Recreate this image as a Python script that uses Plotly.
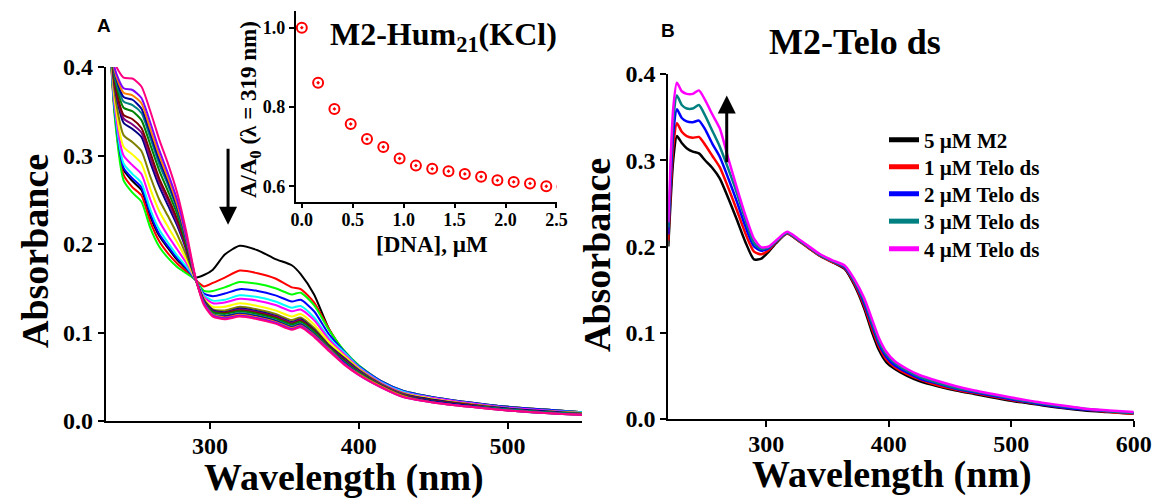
import plotly.graph_objects as go

# ---------------- Panel A : M2 + Hum21 (KCl) titration ----------------
WL_A = [230, 236, 242, 248, 254, 260, 266, 272, 278, 284, 290, 296, 302, 310, 320,
        332, 344, 355, 361, 370, 380, 390, 400, 415, 430, 450, 475, 500, 525, 550]

A_black = [0.52, 0.351, 0.284, 0.271, 0.261, 0.231, 0.209, 0.195, 0.182, 0.172, 0.162, 0.165, 0.171, 0.188, 0.198, 0.193, 0.183, 0.176, 0.166, 0.143, 0.104, 0.078, 0.062, 0.044, 0.033, 0.026, 0.020, 0.016, 0.013, 0.010]
A_red = [0.52, 0.348, 0.278, 0.264, 0.255, 0.225, 0.203, 0.189, 0.178, 0.169, 0.160, 0.152, 0.156, 0.162, 0.170, 0.167, 0.161, 0.151, 0.149, 0.134, 0.104, 0.079, 0.062, 0.045, 0.034, 0.027, 0.021, 0.016, 0.013, 0.010]
A_green = [0.52, 0.345, 0.272, 0.258, 0.248, 0.218, 0.197, 0.184, 0.174, 0.167, 0.160, 0.147, 0.147, 0.151, 0.157, 0.155, 0.150, 0.143, 0.145, 0.131, 0.103, 0.080, 0.063, 0.045, 0.034, 0.027, 0.021, 0.016, 0.013, 0.010]
A_blue = [0.52, 0.352, 0.286, 0.274, 0.264, 0.234, 0.211, 0.197, 0.184, 0.173, 0.160, 0.144, 0.141, 0.144, 0.149, 0.147, 0.142, 0.135, 0.137, 0.124, 0.098, 0.079, 0.062, 0.045, 0.034, 0.027, 0.021, 0.016, 0.013, 0.010]
A_cyan = [0.52, 0.355, 0.291, 0.279, 0.269, 0.239, 0.216, 0.201, 0.187, 0.175, 0.161, 0.142, 0.136, 0.137, 0.142, 0.140, 0.135, 0.128, 0.130, 0.117, 0.094, 0.078, 0.061, 0.044, 0.033, 0.026, 0.020, 0.015, 0.012, 0.010]
A_magenta = [0.52, 0.359, 0.300, 0.289, 0.279, 0.250, 0.226, 0.209, 0.194, 0.179, 0.161, 0.140, 0.133, 0.134, 0.138, 0.136, 0.131, 0.124, 0.126, 0.114, 0.092, 0.076, 0.060, 0.043, 0.032, 0.026, 0.020, 0.015, 0.012, 0.009]
A_yellow = [0.52, 0.365, 0.310, 0.301, 0.291, 0.262, 0.237, 0.219, 0.202, 0.183, 0.161, 0.138, 0.129, 0.129, 0.133, 0.130, 0.125, 0.118, 0.121, 0.109, 0.089, 0.074, 0.059, 0.042, 0.031, 0.025, 0.019, 0.014, 0.011, 0.009]
A_dkyellow = [0.52, 0.371, 0.323, 0.315, 0.305, 0.276, 0.250, 0.231, 0.211, 0.188, 0.162, 0.137, 0.126, 0.125, 0.129, 0.126, 0.121, 0.114, 0.117, 0.105, 0.086, 0.072, 0.058, 0.042, 0.031, 0.024, 0.019, 0.014, 0.011, 0.009]
A_navy = [0.52, 0.379, 0.337, 0.330, 0.321, 0.292, 0.265, 0.243, 0.221, 0.194, 0.162, 0.136, 0.125, 0.123, 0.127, 0.124, 0.119, 0.112, 0.115, 0.103, 0.085, 0.071, 0.057, 0.041, 0.030, 0.024, 0.018, 0.014, 0.011, 0.008]
A_purple = [0.52, 0.381, 0.342, 0.335, 0.326, 0.297, 0.270, 0.248, 0.224, 0.196, 0.162, 0.136, 0.124, 0.122, 0.126, 0.123, 0.118, 0.111, 0.114, 0.102, 0.084, 0.070, 0.056, 0.041, 0.030, 0.023, 0.018, 0.013, 0.010, 0.008]
A_wine = [0.52, 0.383, 0.346, 0.341, 0.331, 0.303, 0.274, 0.252, 0.228, 0.198, 0.163, 0.135, 0.123, 0.122, 0.125, 0.122, 0.117, 0.110, 0.113, 0.102, 0.084, 0.069, 0.055, 0.040, 0.029, 0.023, 0.018, 0.013, 0.010, 0.008]
A_olive = [0.52, 0.388, 0.354, 0.350, 0.340, 0.312, 0.283, 0.259, 0.234, 0.201, 0.163, 0.135, 0.123, 0.121, 0.124, 0.121, 0.116, 0.109, 0.112, 0.101, 0.083, 0.068, 0.055, 0.040, 0.029, 0.022, 0.017, 0.013, 0.010, 0.008]
A_dkcyan = [0.52, 0.391, 0.361, 0.357, 0.348, 0.320, 0.290, 0.266, 0.239, 0.204, 0.163, 0.134, 0.121, 0.119, 0.122, 0.119, 0.114, 0.107, 0.110, 0.099, 0.082, 0.067, 0.054, 0.039, 0.028, 0.022, 0.017, 0.013, 0.010, 0.008]
A_royal = [0.52, 0.394, 0.366, 0.363, 0.353, 0.325, 0.295, 0.270, 0.242, 0.206, 0.163, 0.134, 0.120, 0.118, 0.121, 0.118, 0.113, 0.106, 0.109, 0.098, 0.081, 0.066, 0.053, 0.039, 0.028, 0.022, 0.017, 0.012, 0.009, 0.007]
A_orange = [0.52, 0.396, 0.371, 0.368, 0.359, 0.330, 0.300, 0.274, 0.245, 0.208, 0.163, 0.133, 0.120, 0.117, 0.120, 0.117, 0.112, 0.105, 0.108, 0.097, 0.081, 0.065, 0.053, 0.039, 0.028, 0.021, 0.016, 0.012, 0.009, 0.007]
A_violet = [0.52, 0.399, 0.376, 0.374, 0.365, 0.337, 0.306, 0.279, 0.250, 0.210, 0.164, 0.133, 0.119, 0.116, 0.119, 0.116, 0.111, 0.104, 0.107, 0.096, 0.080, 0.065, 0.052, 0.038, 0.027, 0.021, 0.016, 0.012, 0.009, 0.007]
A_pink = [0.52, 0.405, 0.388, 0.387, 0.378, 0.350, 0.318, 0.290, 0.258, 0.215, 0.165, 0.131, 0.118, 0.115, 0.118, 0.115, 0.110, 0.103, 0.106, 0.095, 0.079, 0.064, 0.052, 0.038, 0.027, 0.021, 0.016, 0.012, 0.009, 0.007]

A_SERIES = [A_black, A_red, A_green, A_blue, A_cyan, A_magenta, A_yellow, A_dkyellow,
            A_navy, A_purple, A_wine, A_olive, A_dkcyan, A_royal, A_orange, A_violet, A_pink]
A_COLORS = ["#000000", "#FF0000", "#00FF00", "#0000FF", "#00FFFF", "#FF00FF", "#FFFF00", "#808000",
            "#000080", "#800080", "#800000", "#008000", "#008080", "#0000A0", "#FF8000", "#8000FF", "#FF0080"]

# ---------------- Inset : A/A0 at 319 nm ----------------
DNA_uM = [0.00, 0.16, 0.32, 0.48, 0.64, 0.80, 0.96, 1.12, 1.28, 1.44, 1.60, 1.76, 1.92, 2.08, 2.24, 2.40, 2.56]
A_RATIO = [1.000, 0.861, 0.795, 0.757, 0.719, 0.699, 0.670, 0.652, 0.644, 0.638, 0.631, 0.624, 0.615, 0.611, 0.607, 0.600, 0.599]

# ---------------- Panel B : M2 + Telo ds ----------------
WL_B = [220, 224, 227, 231, 235, 240, 245, 250, 256, 262, 269, 276, 283, 290, 296, 302, 308, 317, 326, 334,
        344, 354, 364, 372, 380, 386, 392, 398, 405, 415, 425, 440, 455, 470, 485, 500, 520, 540, 560, 580, 600]
B_m2 = [0.200, 0.300, 0.328, 0.320, 0.314, 0.310, 0.308, 0.300, 0.291, 0.279, 0.256, 0.231, 0.205, 0.185, 0.186, 0.194, 0.204, 0.215, 0.207, 0.199, 0.189, 0.182, 0.174, 0.155, 0.128, 0.102, 0.080, 0.066, 0.058, 0.050, 0.044, 0.038, 0.033, 0.029, 0.025, 0.021, 0.017, 0.013, 0.010, 0.008, 0.006]
B_telo1 = [0.207, 0.315, 0.343, 0.333, 0.328, 0.326, 0.327, 0.318, 0.305, 0.292, 0.268, 0.242, 0.215, 0.194, 0.191, 0.196, 0.205, 0.215, 0.207, 0.199, 0.189, 0.182, 0.175, 0.157, 0.131, 0.106, 0.084, 0.069, 0.060, 0.052, 0.046, 0.039, 0.034, 0.030, 0.026, 0.022, 0.018, 0.014, 0.011, 0.008, 0.006]
B_telo2 = [0.214, 0.330, 0.359, 0.349, 0.345, 0.344, 0.346, 0.336, 0.319, 0.304, 0.279, 0.252, 0.223, 0.200, 0.195, 0.198, 0.206, 0.216, 0.208, 0.200, 0.190, 0.183, 0.176, 0.159, 0.134, 0.110, 0.087, 0.072, 0.062, 0.054, 0.047, 0.041, 0.035, 0.031, 0.027, 0.023, 0.018, 0.014, 0.011, 0.009, 0.007]
B_telo3 = [0.222, 0.345, 0.375, 0.364, 0.360, 0.360, 0.364, 0.352, 0.334, 0.316, 0.290, 0.262, 0.231, 0.204, 0.197, 0.199, 0.206, 0.216, 0.208, 0.200, 0.190, 0.183, 0.177, 0.160, 0.137, 0.113, 0.090, 0.075, 0.065, 0.056, 0.049, 0.042, 0.036, 0.032, 0.028, 0.024, 0.019, 0.015, 0.012, 0.009, 0.007]
B_telo4 = [0.228, 0.360, 0.390, 0.380, 0.377, 0.377, 0.381, 0.370, 0.353, 0.337, 0.302, 0.268, 0.236, 0.209, 0.199, 0.200, 0.207, 0.217, 0.209, 0.201, 0.191, 0.184, 0.178, 0.162, 0.140, 0.117, 0.094, 0.078, 0.067, 0.058, 0.051, 0.044, 0.038, 0.033, 0.029, 0.025, 0.020, 0.016, 0.012, 0.010, 0.008]
B_SERIES = [B_m2, B_telo1, B_telo2, B_telo3, B_telo4]
B_NAMES = ["5 \u00b5M M2", "1 \u00b5M Telo ds", "2 \u00b5M Telo ds", "3 \u00b5M Telo ds", "4 \u00b5M Telo ds"]
B_COLORS = ["#000000", "#FF0000", "#0000FF", "#008080", "#FF00FF"]
LEGEND_ROWS_PX = [140, 167, 194, 221.5, 249]

SERIF = "Liberation Serif, Times New Roman, serif"
W, H = 1154, 500

def px(x):
    return x / W

def py(y):
    return 1 - y / H

fig = go.Figure()

for ys, col in zip(A_SERIES, A_COLORS):
    fig.add_trace(go.Scatter(x=WL_A, y=ys, mode="lines", xaxis="x", yaxis="y",
                             line=dict(color=col, width=2, shape="spline", smoothing=0.6),
                             showlegend=False, hoverinfo="skip"))

fig.add_trace(go.Scatter(x=DNA_uM, y=A_RATIO, mode="markers", xaxis="x3", yaxis="y3",
                         marker=dict(symbol="circle-open-dot", size=10, color="#FF0000",
                                     line=dict(width=2, color="#FF0000")),
                         showlegend=False, cliponaxis=True))

legend_ids = ["legend", "legend2", "legend3", "legend4", "legend5"]
for ys, col, nm, lg in zip(B_SERIES, B_COLORS, B_NAMES, legend_ids):
    fig.add_trace(go.Scatter(x=WL_B, y=ys, mode="lines", xaxis="x2", yaxis="y2", name=nm,
                             legend=lg,
                             line=dict(color=col, width=2.5, shape="spline", smoothing=0.6)))

main_tick = dict(family=SERIF, size=24, color="black", weight="bold")
axis_common = dict(showline=True, linecolor="black", linewidth=2, ticks="outside", ticklen=6,
                   tickwidth=2, tickcolor="black", showgrid=False, zeroline=False,
                   tickfont=main_tick, automargin=False)
inset_common = dict(showline=True, linecolor="black", linewidth=1.5, ticks="outside", ticklen=5,
                    tickwidth=1.5, tickcolor="black", showgrid=False, zeroline=False, automargin=False,
                    tickfont=dict(family=SERIF, size=18, color="black", weight="bold"))

legend_font = dict(family=SERIF, size=21, color="black", weight="bold")
legends = {}
for lg, row in zip(legend_ids, LEGEND_ROWS_PX):
    legends[lg] = dict(x=px(884), y=py(row), xanchor="left", yanchor="middle", font=legend_font,
                       bgcolor="rgba(0,0,0,0)", borderwidth=0, tracegroupgap=0, itemsizing="constant")

fig.update_layout(
    width=W, height=H, margin=dict(l=0, r=0, t=0, b=0, pad=0, autoexpand=False),
    paper_bgcolor="white", plot_bgcolor="rgba(0,0,0,0)",
    xaxis=dict(domain=[px(105.7), px(582)], range=[230, 550], anchor="y",
               tickvals=[300, 400, 500], ticklabelstandoff=-4, **axis_common),
    yaxis=dict(domain=[py(421), py(67)], range=[0, 0.4], anchor="x",
               tickvals=[0, 0.1, 0.2, 0.3, 0.4], tickformat=".1f", **axis_common),
    xaxis2=dict(domain=[px(668.3), px(1133.7)], range=[220, 600], anchor="y2",
                tickvals=[300, 400, 500, 600], ticklabelstandoff=-4, **axis_common),
    yaxis2=dict(domain=[py(419), py(74)], range=[0, 0.4], anchor="x2",
                tickvals=[0, 0.1, 0.2, 0.3, 0.4], tickformat=".1f", **axis_common),
    xaxis3=dict(domain=[px(295.7), px(557)], range=[-0.06, 2.505], anchor="y3",
                tickvals=[0, 0.5, 1.0, 1.5, 2.0, 2.5], tickformat=".1f", ticklabelstandoff=-4,
                **inset_common),
    yaxis3=dict(domain=[py(201.7), py(11)], range=[0.561, 1.042], anchor="x3",
                tickvals=[0.6, 0.8, 1.0], tickformat=".1f", **inset_common),
    **legends,
)

def label(text, x, y, size, family=SERIF, angle=0):
    fig.add_annotation(text=text, x=px(x), y=py(y), xref="paper", yref="paper",
                       xanchor="center", yanchor="middle", showarrow=False, textangle=angle,
                       font=dict(family=family, size=size, color="black", weight="bold"))

label("A", 104, 25, 19, family="Liberation Sans, Arial, sans-serif")
label("B", 668, 30, 19, family="Liberation Sans, Arial, sans-serif")
label("M2-Hum<sub>21</sub>(KCl)", 444, 37, 32)
label("M2-Telo ds", 855, 42, 36)
label("A/A<sub>0</sub> (\u03bb = 319 nm)", 250, 110, 23, angle=-90)
label("[DNA], \u00b5M", 432, 244, 23)
label("Wavelength (nm)", 344, 477, 38)
label("Wavelength (nm)", 892, 474, 38)
label("Absorbance", 35, 251, 38, angle=-90)
label("Absorbance", 597, 255, 38, angle=-90)

# arrows (tail -> head)
fig.add_annotation(x=312.2, y=0.2217, ax=312.2, ay=0.319, xref="x", yref="y", axref="x", ayref="y",
                   text=" ", showarrow=True, arrowhead=2, arrowsize=1.2, arrowwidth=3, arrowcolor="black")
fig.add_annotation(x=267.7, y=0.375, ax=267.7, ay=0.286, xref="x2", yref="y2", axref="x2", ayref="y2",
                   text=" ", showarrow=True, arrowhead=2, arrowsize=1.2, arrowwidth=3, arrowcolor="black")

fig.write_html("out.html", config={"displayModeBar": False},
               post_script="document.body.style.margin='0px';document.body.style.overflow='hidden';")
